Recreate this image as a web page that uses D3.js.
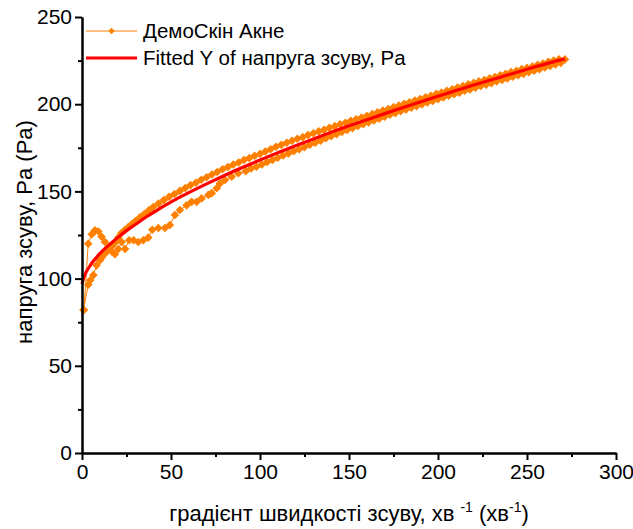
<!DOCTYPE html>
<html>
<head>
<meta charset="utf-8">
<script src="https://cdn.jsdelivr.net/npm/d3@7"></script>
<style>
  body { margin: 0; background: #fff; }
  svg { display: block; font-family: "Liberation Sans", Arial, sans-serif; }
</style>
</head>
<body>
<svg id="chart" width="633" height="529"></svg>
<script>
// measured curve, shear rate up then down (orange)
const sampleX = [1.1, 3.5, 5.5, 7.3, 9.2, 11, 12.9, 14.8, 16.7, 18.5, 20.4, 22.3, 24.2, 26.5, 29, 31.6, 34.4, 37.2, 39.5, 42.9,
  46.6, 49.4, 52.2, 55, 58.8, 61.6, 64.4, 67.2, 71, 72.9, 75.7, 77.5, 80.3, 84.1, 87.8,
  92, 95, 98, 101, 104, 107, 110, 113, 116, 119, 122, 125, 128, 131, 134, 137, 140, 143, 146, 149,
  152, 155, 158, 161, 164, 167, 170, 173, 176, 179, 182, 185, 188, 191, 194, 197, 200, 203, 206, 209,
  212, 215, 218, 221, 224, 227, 230, 233, 236, 239, 242, 245, 248, 251, 254, 257, 260, 263, 266, 269, 271.3,
  268, 265, 262, 259, 256, 253, 250, 247, 244, 241, 238, 235, 232, 229, 226, 223, 220, 217, 214, 211,
  208, 205, 202, 199, 196, 193, 190, 187, 184, 181, 178, 175, 172, 169, 166, 163, 160, 157, 154, 151,
  148, 145, 142, 139, 136, 133, 130, 127, 124, 121, 118, 115, 112, 109, 106, 103, 100, 97, 94, 91,
  88, 85, 82, 79, 76, 73, 70, 67, 64, 61, 58, 55, 52, 49, 46, 43, 40, 37.5, 35, 32.5,
  30, 28, 26, 24, 22, 20.4, 18.5, 16.7, 14.8, 12.9, 11, 10.1, 8.2, 6.4, 4.6, 3.5, 0.8];
const sampleY = [82, 120, 125.5, 127.7, 127, 124, 121, 118, 115.5, 114, 117, 121, 117, 122, 122, 121, 122, 123.5, 128, 129,
  129, 130.7, 136.5, 139.3, 142, 144, 144, 146, 148, 149, 151.8, 154.6, 156.5, 158.4, 160.4,
  161.6, 163.1, 164.1, 165.4, 166.9, 168.0, 169.3, 170.6, 171.8, 173.1, 174.2, 175.4, 176.8, 177.9, 179.1, 180.5, 181.6, 182.8, 184.1, 185.2,
  186.3, 187.5, 188.5, 189.6, 190.7, 191.7, 192.8, 194.0, 194.9, 196.0, 196.9, 198.0, 198.9, 199.9, 201.0, 201.9, 202.9, 203.8, 204.9, 205.7,
  206.6, 207.7, 208.5, 209.4, 210.4, 211.2, 212.1, 213.1, 213.9, 214.8, 215.8, 216.6, 217.4, 218.4, 219.2, 220.1, 221.1, 221.9, 222.8, 223.7, 225.7,
  225.8, 225.0, 224.3, 223.3, 222.6, 221.6, 220.8, 220.1, 219.1, 218.4, 217.4, 216.6, 215.6, 214.8, 213.9, 213.1, 212.2, 211.4, 210.4, 209.6,
  208.6, 207.7, 206.7, 205.9, 204.8, 204.0, 203.0, 202.1, 201.1, 200.2, 199.2, 198.3, 197.2, 196.4, 195.3, 194.4, 193.3, 192.4, 191.4, 190.5,
  189.4, 188.5, 187.4, 186.5, 185.3, 184.4, 183.3, 182.3, 181.1, 180.2, 179.0, 177.9, 176.7, 175.6, 174.2, 172.9, 171.5, 170.4, 169.1, 168.0,
  166.6, 165.4, 164.0, 162.7, 161.1, 159.7, 158.1, 156.7, 155.0, 153.6, 151.9, 150.3, 148.5, 146.9, 145.0, 143.0, 141.0, 139.1, 137.0, 135.1,
  133.0, 131.3, 129.5, 127.8, 126.0, 123.5, 120.5, 118.5, 116.5, 114.3, 112.0, 110.5, 107.6, 102.0, 99.0, 96.5, 82];

// fitted curve (red)
const fitX = [0, 1, 2, 4, 6, 8, 10, 13, 16, 20, 25, 30, 35, 40, 45, 50, 55, 60, 70, 80, 90, 100, 110, 120, 130,
  140, 150, 160, 170, 180, 190, 200, 210, 220, 230, 240, 250, 260, 271.3];
const fitY = [97, 100.5, 103, 106.5, 109.5, 112, 114.3, 117.3, 120, 123.5, 127.5, 131, 134.6, 137.8, 141, 143.9, 146.7, 149.3, 154.3, 159.1, 163.7, 168, 172.2, 176.2, 180.1,
  183.9, 187.6, 191.1, 194.6, 198, 201.3, 204.6, 207.8, 211, 214, 217, 220, 223, 226];

const xTicks = [0, 50, 100, 150, 200, 250, 300];
const xMinor = [25, 75, 125, 175, 225, 275];
const yTicks = [0, 50, 100, 150, 200, 250];
const yMinor = [25, 75, 125, 175, 225];
const seriesNames = ["ДемоСкін Акне", "Fitted Y of напруга зсуву, Pa"];

const ORANGE = "#ff8000", RED = "#ff0000";

const svg = d3.select("#chart");
const x = d3.scaleLinear().domain([0, 300]).range([82, 616]);
const y = d3.scaleLinear().domain([0, 250]).range([453, 17]);

const diamond = r => `M0,${-r}L${r},0L0,${r}L${-r},0Z`;

// orange data
const pts = sampleX.map((d, i) => [d, sampleY[i]]);
const line = d3.line().x(d => x(d[0])).y(d => y(d[1]));
svg.append("path").attr("d", line(pts))
  .attr("fill", "none").attr("stroke", ORANGE).attr("stroke-width", 1);
svg.append("g").selectAll("path").data(pts).join("path")
  .attr("transform", d => `translate(${x(d[0])},${y(d[1])})`)
  .attr("d", diamond(4.3)).attr("fill", ORANGE);

// fitted line
const fit = fitX.map((d, i) => [d, fitY[i]]);
svg.append("path").attr("d", line.curve(d3.curveMonotoneX)(fit))
  .attr("fill", "none").attr("stroke", RED).attr("stroke-width", 3.2);

// axes
const styleAxis = g => {
  g.select(".domain").attr("stroke", "#000").attr("stroke-width", 2);
  g.selectAll(".tick line").attr("stroke", "#000").attr("stroke-width", 2);
  g.selectAll("text").attr("font-size", 21).attr("fill", "#000").attr("font-family", "Liberation Sans, Arial");
};
svg.append("g").attr("transform", "translate(0,453)")
  .call(d3.axisBottom(x).tickValues(xMinor).tickSize(4).tickFormat("").tickSizeOuter(0))
  .call(styleAxis);
svg.append("g").attr("transform", "translate(0,453)")
  .call(d3.axisBottom(x).tickValues(xTicks).tickSize(7).tickPadding(4).tickSizeOuter(0))
  .call(styleAxis);
svg.append("g").attr("transform", "translate(82,0)")
  .call(d3.axisLeft(y).tickValues(yMinor).tickSize(4).tickFormat("").tickSizeOuter(0))
  .call(styleAxis);
svg.append("g").attr("transform", "translate(82,0)")
  .call(d3.axisLeft(y).tickValues(yTicks).tickSize(7).tickPadding(3).tickSizeOuter(0))
  .call(styleAxis);

// axis titles
svg.append("text").attr("transform", "translate(32,232) rotate(-90)")
  .attr("text-anchor", "middle").attr("font-size", 22).text("напруга зсуву, Pa (Pa)");
const xt = svg.append("text").attr("x", 349).attr("y", 521)
  .attr("text-anchor", "middle").attr("font-size", 22);
xt.append("tspan").text("градієнт швидкості зсуву, хв ");
xt.append("tspan").attr("font-size", 14).attr("dy", -9).text("-1");
xt.append("tspan").attr("dy", 9).text(" (хв");
xt.append("tspan").attr("font-size", 14).attr("dy", -9).text("-1");
xt.append("tspan").attr("dy", 9).text(")");

// legend
const lg = svg.append("g");
lg.append("line").attr("x1", 86).attr("x2", 137).attr("y1", 31).attr("y2", 31)
  .attr("stroke", ORANGE).attr("stroke-width", 1);
lg.append("path").attr("transform", "translate(111.5,31)").attr("d", diamond(3.2)).attr("fill", ORANGE);
lg.append("line").attr("x1", 86).attr("x2", 137).attr("y1", 58).attr("y2", 58)
  .attr("stroke", RED).attr("stroke-width", 3.2);
lg.selectAll("text").data(seriesNames).join("text")
  .attr("x", 143).attr("y", (d, i) => 38 + i * 27)
  .attr("font-size", 20.5).text(d => d);
</script>
</body>
</html>
